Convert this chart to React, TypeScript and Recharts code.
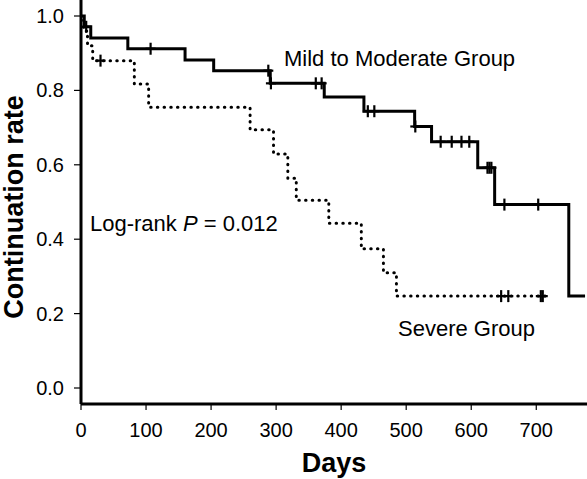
import React from "react";
import { ComposedChart, Line, Scatter, XAxis, YAxis } from "recharts";

// Kaplan-Meier steps (days, continuation rate)
const mildTimes = [0, 5, 15, 72, 160, 204, 291, 374, 435, 513, 539, 610, 636, 750, 775];
const mildSurv = [1.0, 0.971, 0.941, 0.912, 0.882, 0.853, 0.819, 0.782, 0.744, 0.703, 0.662, 0.592, 0.493, 0.247, 0.247];

const severeTimes = [0, 4, 10, 18, 82, 104, 260, 296, 318, 331, 381, 431, 465, 485, 720];
const severeSurv = [1.0, 0.96, 0.92, 0.88, 0.817, 0.755, 0.694, 0.629, 0.564, 0.505, 0.443, 0.374, 0.31, 0.247, 0.247];

// censored observations
const mildCensorTimes = [8, 107, 288, 292, 361, 370, 441, 451, 514, 553, 570, 585, 597, 625, 628, 631, 651, 703];
const mildCensorSurv = [0.971, 0.912, 0.853, 0.819, 0.819, 0.819, 0.744, 0.744, 0.703, 0.662, 0.662, 0.662, 0.662, 0.592, 0.592, 0.592, 0.493, 0.493];

const severeCensorTimes = [30, 646, 657, 707, 710];
const severeCensorSurv = [0.88, 0.247, 0.247, 0.247, 0.247];

const xTicks = [0, 100, 200, 300, 400, 500, 600, 700];
const yTicks = [0, 0.2, 0.4, 0.6, 0.8, 1.0];

const zip = (ts: number[], ss: number[]) => ts.map((t, i) => ({ t, s: ss[i] }));

const mildData = zip(mildTimes, mildSurv);
const severeData = zip(severeTimes, severeSurv);
const mildCensor = zip(mildCensorTimes, mildCensorSurv);
const severeCensor = zip(severeCensorTimes, severeCensorSurv);

const FONT = "'Liberation Sans', Arial, sans-serif";

const Cross = (props: any) => {
  const { cx, cy } = props;
  if (cx == null || cy == null) return null;
  return (
    <g stroke="#000" strokeWidth={2.2}>
      <line x1={cx} x2={cx} y1={cy - 6} y2={cy + 6} />
      <line x1={cx - 5} x2={cx + 5} y1={cy} y2={cy} />
    </g>
  );
};

export default function App() {
  return (
    <div style={{ position: "absolute", left: 0, top: 0, background: "#fff" }}>
      <ComposedChart
        width={587}
        height={479}
        margin={{ top: 0, right: 0, left: 0, bottom: 0 }}
        style={{ fontFamily: FONT }}
      >
        <XAxis
          type="number"
          dataKey="t"
          domain={[0, 778]}
          ticks={xTicks}
          allowDataOverflow
          height={75}
          axisLine={{ stroke: "#000", strokeWidth: 3 }}
          tickLine={{ stroke: "#000", strokeWidth: 1.2 }}
          tickSize={6}
          tickMargin={13}
          tick={{ fill: "#000", fontSize: 20, fontFamily: FONT }}
        />
        <YAxis
          type="number"
          domain={[-0.043, 1.043]}
          ticks={yTicks}
          allowDataOverflow
          width={81}
          axisLine={{ stroke: "#000", strokeWidth: 3 }}
          tickLine={{ stroke: "#000", strokeWidth: 1.2 }}
          tickSize={7}
          tickMargin={10}
          tickFormatter={(v: number) => v.toFixed(1)}
          tick={{ fill: "#000", fontSize: 20, fontFamily: FONT }}
        />
        <Line
          data={mildData}
          dataKey="s"
          type="stepAfter"
          stroke="#000"
          strokeWidth={3}
          dot={false}
          activeDot={false}
          isAnimationActive={false}
        />
        <Line
          data={severeData}
          dataKey="s"
          type="stepAfter"
          stroke="#000"
          strokeWidth={3}
          strokeDasharray="0.5 6.2"
          strokeLinecap="round"
          dot={false}
          activeDot={false}
          isAnimationActive={false}
        />
        <Scatter data={mildCensor} dataKey="s" shape={Cross} isAnimationActive={false} />
        <Scatter data={severeCensor} dataKey="s" shape={Cross} isAnimationActive={false} />

        <text x={284} y={66} fontSize={22} fontFamily={FONT} fill="#000">
          Mild to Moderate Group
        </text>
        <text x={90} y={231} fontSize={22} fontFamily={FONT} fill="#000">
          Log-rank <tspan fontStyle="italic">P</tspan> = 0.012
        </text>
        <text x={398} y={336} fontSize={22} fontFamily={FONT} fill="#000">
          Severe Group
        </text>
        <text x={334} y={472} fontSize={27} fontWeight="bold" fontFamily={FONT} fill="#000" textAnchor="middle">
          Days
        </text>
        <text
          x={23}
          y={207}
          fontSize={27}
          fontWeight="bold"
          fontFamily={FONT}
          fill="#000"
          textAnchor="middle"
          transform="rotate(-90 23 207)"
        >
          Continuation rate
        </text>
      </ComposedChart>
    </div>
  );
}
